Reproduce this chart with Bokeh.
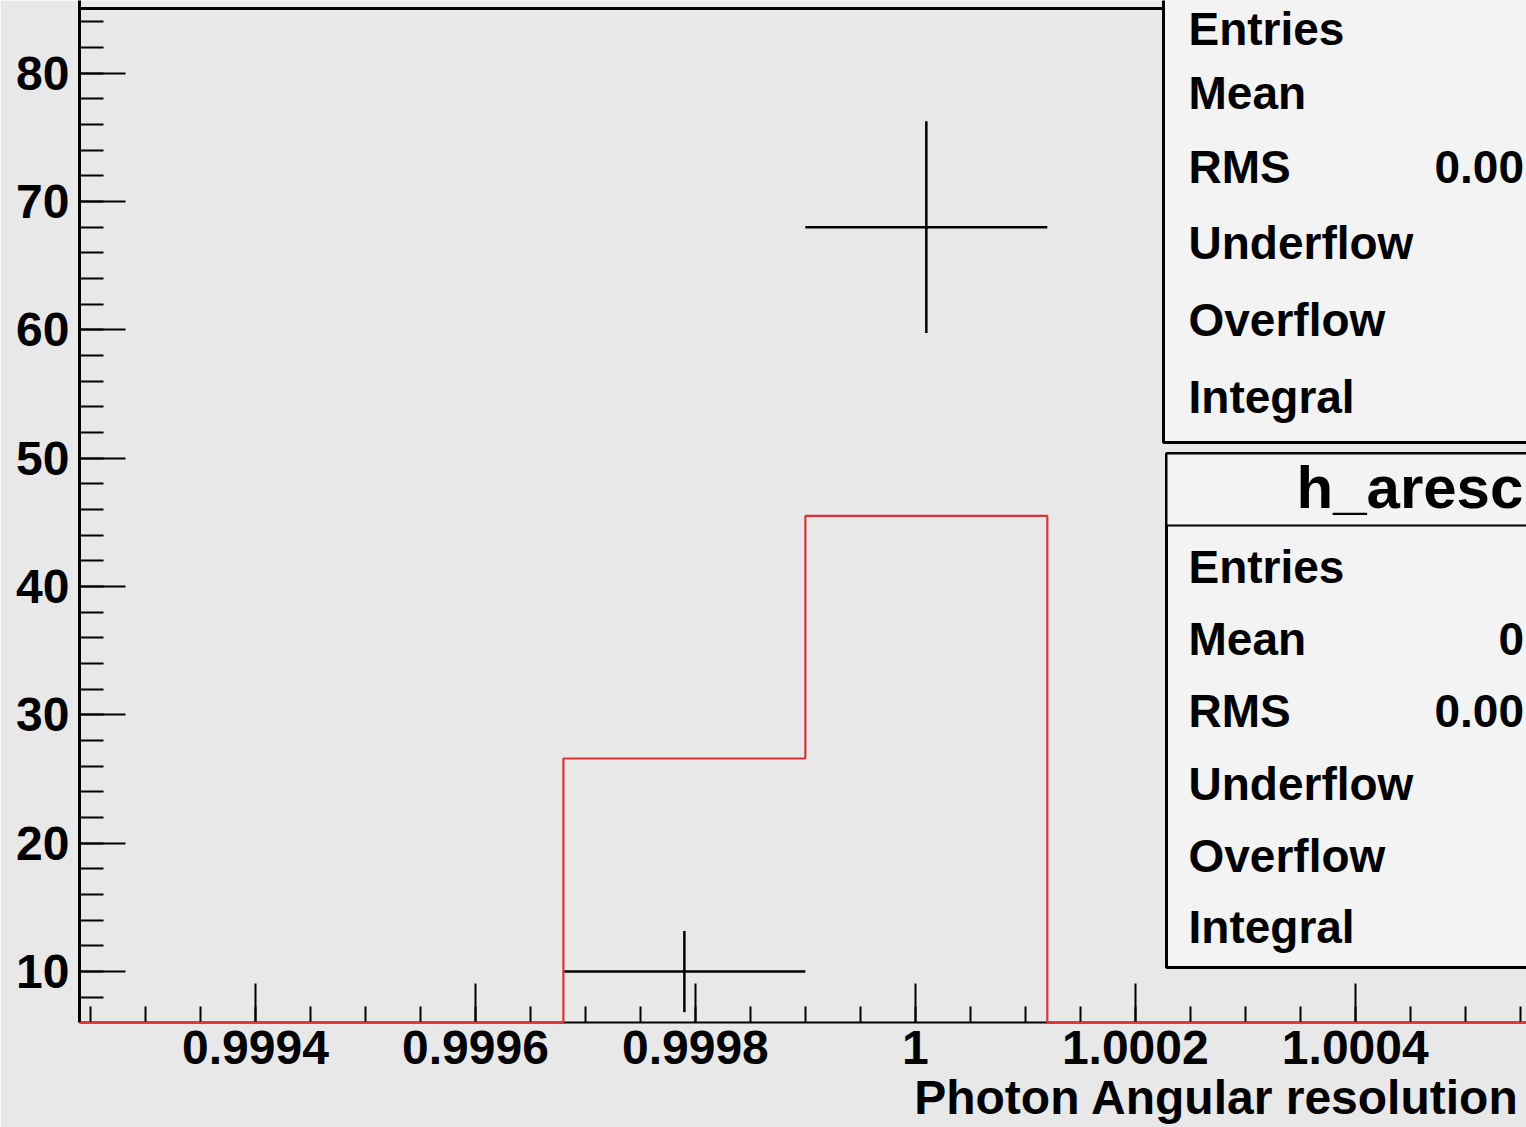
from bokeh.plotting import figure
from bokeh.models import (Range1d, SingleIntervalTicker, CustomJSTickFormatter,
                          Span, BoxAnnotation, Label, Title)
from bokeh.embed import file_html
from bokeh.resources import INLINE

# ---------------- data ----------------
bin_edges = [0.99924, 0.99946, 0.99968, 0.99990, 1.00012, 1.00034, 1.00056, 1.00078]
red_counts = [0, 0, 26.6, 45.5, 0, 0, 0]
black_counts = [0, 0, 10, 68, 0, 0, 0]

x_start, x_end = 0.99924, 1.0005557
y_start, y_end = 6.03, 85.66
frame_top_value = 85.04
x_tick_interval = 0.0002
y_tick_interval = 10

stat_labels = ["Entries", "Mean", "RMS", "Underflow", "Overflow", "Integral"]
box1_rms = "0.00"
box2_title = "h_aresc"
box2_mean = "0"
box2_rms = "0.00"
x_title = "Photon Angular resolution"

FONT = "Liberation Sans"
BG = "#e8e8e8"

p = figure(width=1526, height=1127, output_backend="svg", toolbar_location=None,
           x_range=Range1d(x_start, x_end), y_range=Range1d(y_start, y_end),
           min_border_left=79, min_border_right=0, min_border_top=0,
           min_border_bottom=105)
p.background_fill_color = BG
p.border_fill_color = BG
p.outline_line_color = None
p.grid.visible = False

# ---------------- axes ----------------
p.xaxis.ticker = SingleIntervalTicker(interval=x_tick_interval, num_minor_ticks=4)
p.xaxis.formatter = CustomJSTickFormatter(code="return parseFloat(tick.toFixed(4)).toString();")
p.yaxis.ticker = SingleIntervalTicker(interval=y_tick_interval, num_minor_ticks=5)
for ax in (p.xaxis, p.yaxis):
    ax.axis_line_color = "black"
    ax.major_tick_line_color = "black"
    ax.minor_tick_line_color = "black"
    ax.major_tick_line_width = 2
    ax.minor_tick_line_width = 2
    ax.major_tick_out = 0
    ax.minor_tick_out = 0
    ax.major_label_text_font = FONT
    ax.major_label_text_font_style = "bold"
    ax.major_label_text_font_size = "48px"
    ax.major_label_text_color = "black"
p.xaxis.axis_line_width = 2
p.yaxis.axis_line_width = 3
p.xaxis.major_tick_in = 39
p.xaxis.minor_tick_in = 16
p.yaxis.major_tick_in = 46
p.yaxis.minor_tick_in = 24
p.xaxis.major_label_standoff = 8
p.yaxis.major_label_standoff = 10

p.add_layout(Title(text=x_title, align="right", offset=7, standoff=5,
                   text_font=FONT, text_font_style="bold", text_font_size="48px",
                   text_color="black"), "below")

p.add_layout(Span(location=frame_top_value, dimension="width", line_color="black", line_width=3))

# ---------------- red histogram (step) ----------------
sx, sy = [], []
for i, c in enumerate(red_counts):
    v = max(c, y_start)
    sx += [bin_edges[i], bin_edges[i + 1]]
    sy += [v, v]
red = p.line(sx, sy, line_color="#dd3333", line_width=2.2)
red.level = "overlay"

# ---------------- black points with errors ----------------
hx0, hx1, hy, vx, vy0, vy1 = [], [], [], [], [], []
for i, c in enumerate(black_counts):
    if c <= 0:
        continue
    e = c ** 0.5
    hx0.append(bin_edges[i]); hx1.append(bin_edges[i + 1]); hy.append(c)
    xc = 0.5 * (bin_edges[i] + bin_edges[i + 1])
    vx.append(xc); vy0.append(c - e); vy1.append(c + e)
p.segment(x0=hx0, y0=hy, x1=hx1, y1=hy, line_color="black", line_width=2.5)
p.segment(x0=vx, y0=vy0, x1=vx, y1=vy1, line_color="black", line_width=2.5)

# ---------------- stat boxes (screen units relative to frame) ----------------
FL, FB = 79, 1022  # frame left / bottom in canvas pixels


def sx_(X):
    return X - FL


def sy_(Y):
    return FB - Y


def box(l, t, r, b, lw=3):
    p.add_layout(BoxAnnotation(left=sx_(l), right=sx_(r), top=sy_(t), bottom=sy_(b),
                               left_units="screen", right_units="screen",
                               top_units="screen", bottom_units="screen",
                               fill_color="#f3f3f3", fill_alpha=1.0,
                               line_color="black", line_alpha=1.0, line_width=lw))


def label(X, Y, txt, size=46, align="left"):
    shift = {46: 18, 48: 19, 60: 21}[size]
    p.add_layout(Label(x=sx_(X), y=sy_(Y - shift), x_units="screen", y_units="screen",
                       text=txt, text_font=FONT, text_font_style="bold",
                       text_font_size=f"{size}px", text_color="black",
                       text_align=align, text_baseline="alphabetic"))


box(1163, -30, 1600, 442)
box(1166, 453, 1600, 967)
box(1166, 453, 1600, 525, lw=2)

rows1 = [46, 110, 184, 260, 337, 414]
rows2 = [584, 656, 728, 801, 873, 944]
for lab, yb in zip(stat_labels, rows1):
    label(1188, yb, lab)
for lab, yb in zip(stat_labels, rows2):
    label(1188, yb, lab)
label(1434, rows1[2], box1_rms)
label(1498, rows2[1], box2_mean)
label(1434, rows2[2], box2_rms)
label(1296, 508, box2_title, size=60)

open("out.html", "w").write(file_html(p, INLINE))
